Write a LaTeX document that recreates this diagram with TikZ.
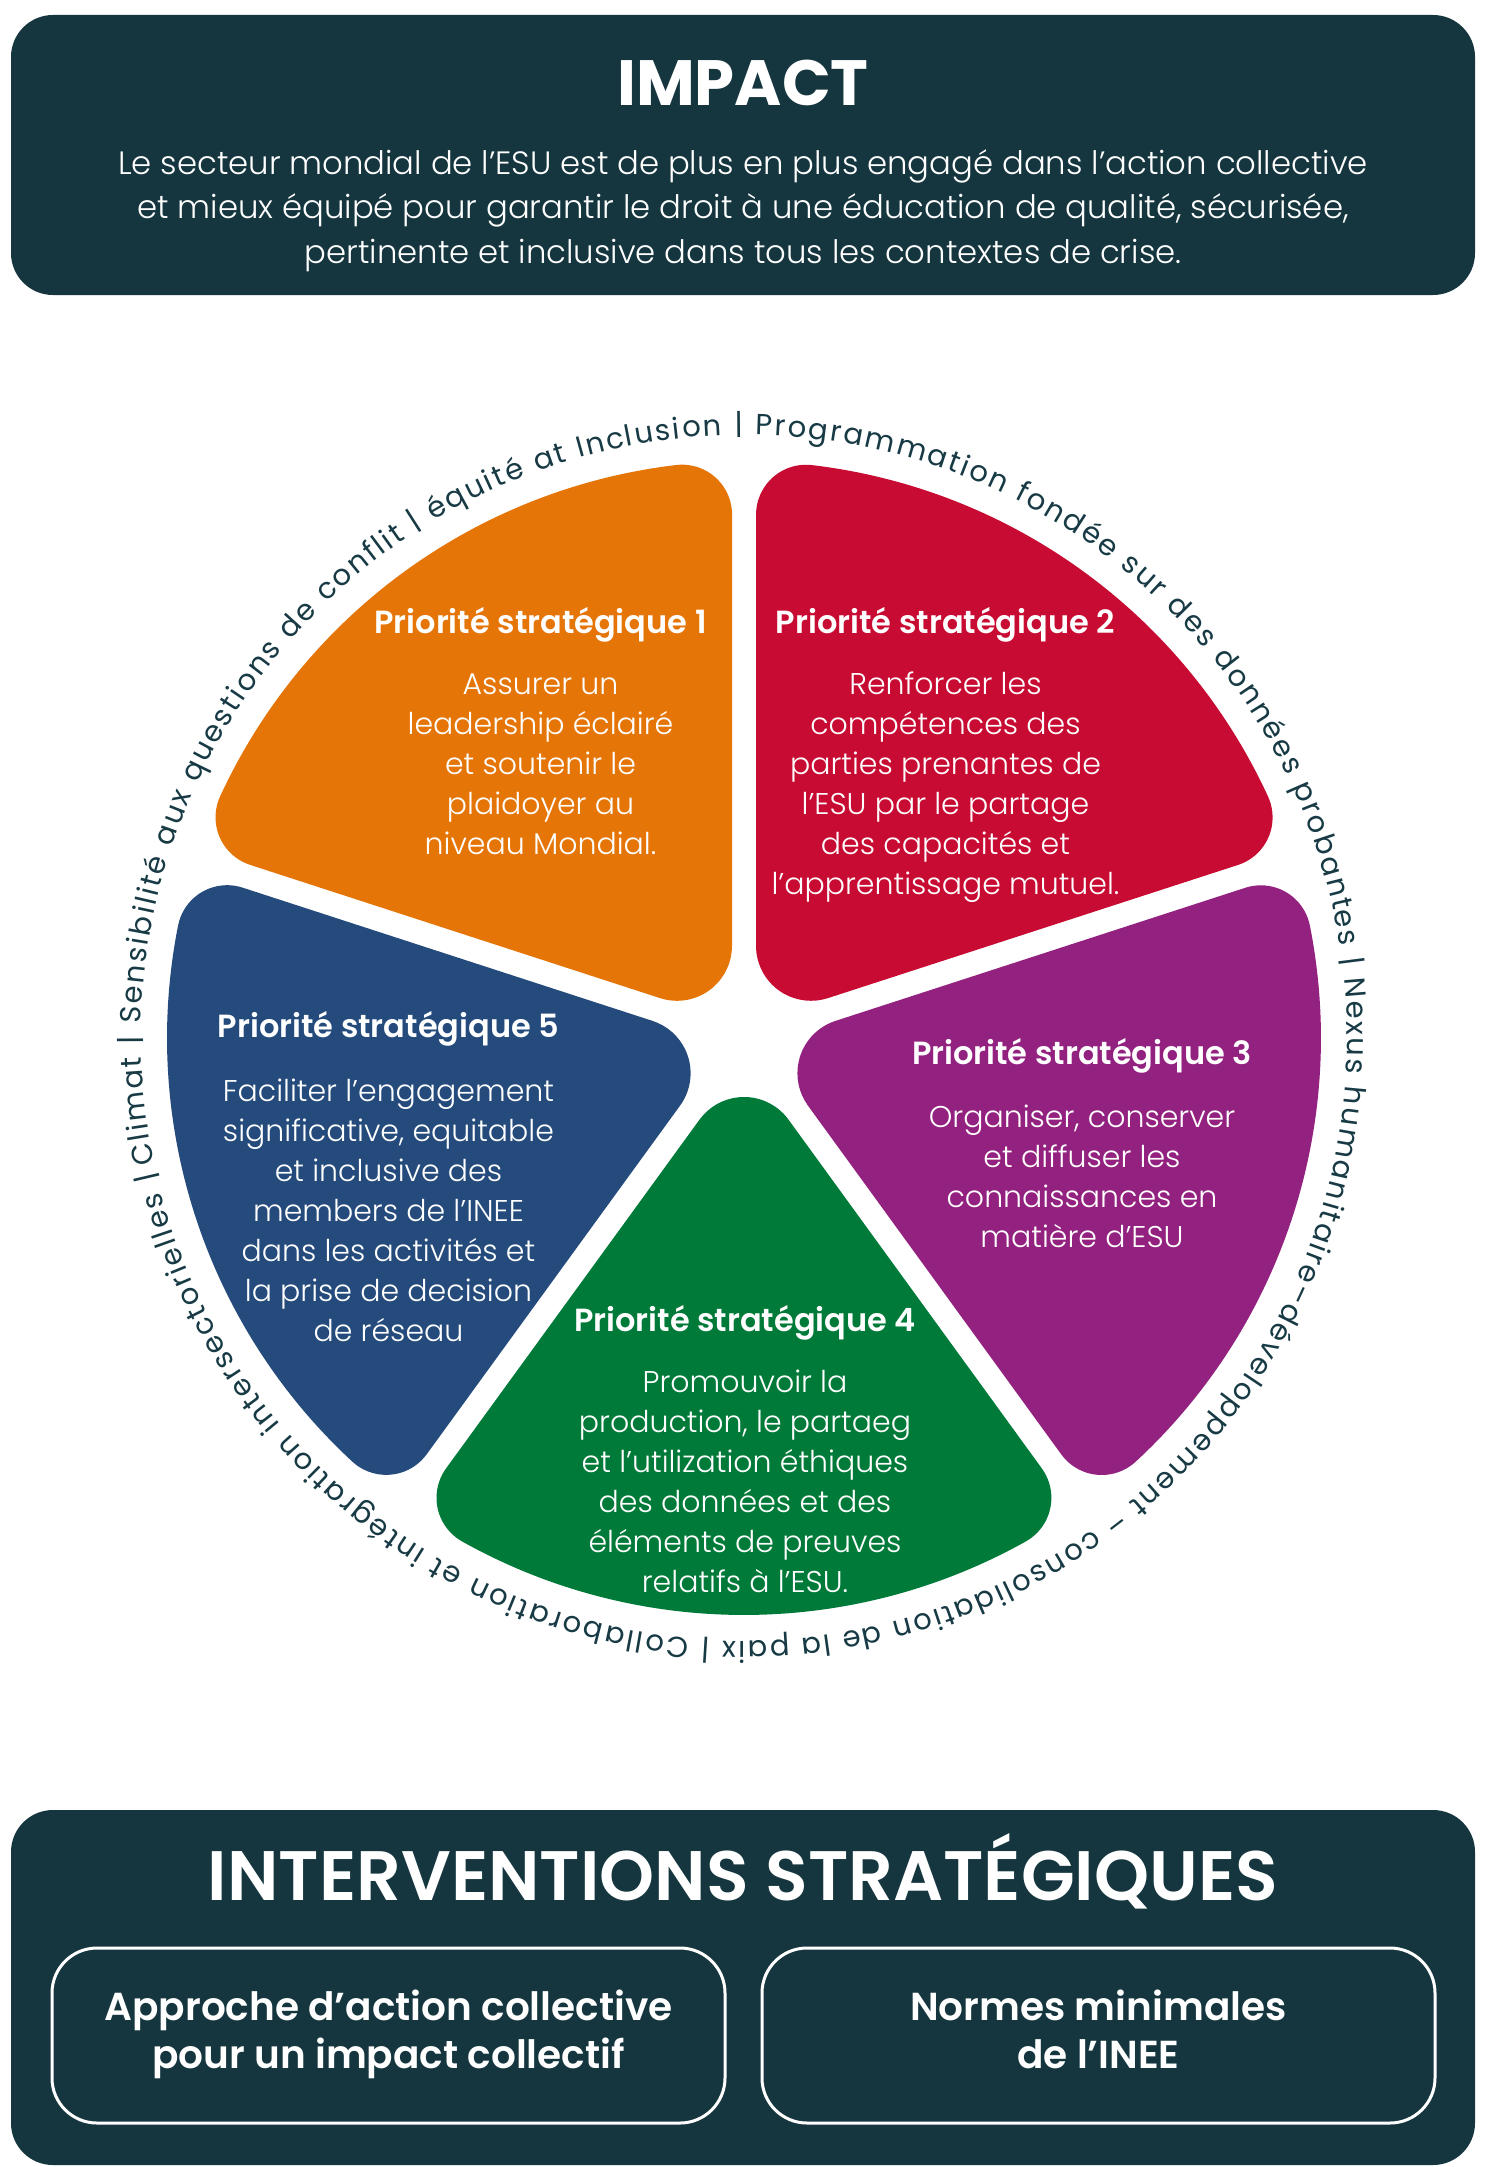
\documentclass[tikz,border=0pt]{standalone}
\usepackage{fontspec}
\setmainfont{Poppins}
\newfontfamily\plight{Poppins}[UprightFont={* Light}]
\newfontfamily\psemi{Poppins}[UprightFont={* SemiBold}]
\usetikzlibrary{decorations.text}
\definecolor{darkbg}{HTML}{15363F}
\definecolor{ringcol}{HTML}{173A45}
\definecolor{psone}{HTML}{E57507}
\definecolor{pstwo}{HTML}{C80B32}
\definecolor{psthree}{HTML}{932180}
\definecolor{psfour}{HTML}{007A38}
\definecolor{psfive}{HTML}{244B7C}
\newcommand\ringfont{\fontsize{29}{29}\selectfont}
\tikzset{
  boxbg/.style={fill=darkbg, rounded corners=42pt, inner sep=0pt},
  innerbox/.style={draw=white, line width=3pt, rounded corners=45pt, inner sep=0pt},
  bigtitle/.style={text=white, font=\fontsize{64}{64}\selectfont\bfseries, anchor=base, inner sep=0pt},
  toptext/.style={text=white, font=\fontsize{32.3}{44.7}\selectfont\plight, align=center, anchor=north, inner sep=0pt},
  pstitle/.style={text=white, font=\fontsize{32}{32}\selectfont\psemi, anchor=base, inner sep=0pt},
  psbody/.style={text=white, font=\fontsize{30}{40.1}\selectfont\plight, align=center, anchor=north, inner sep=0pt},
  intertitle/.style={text=white, font=\fontsize{70}{70}\selectfont\psemi, anchor=base, inner sep=0pt},
  intertext/.style={text=white, font=\fontsize{39}{48}\selectfont\psemi, align=center, anchor=north, inner sep=0pt}
}
\begin{document}
\begin{tikzpicture}[x=1pt,y=1pt]
\useasboundingbox (0,0) rectangle (1486,-2167);
\fill[white] (0,0) rectangle (1486,-2167);

% ---------- IMPACT box
\node[boxbg, minimum width=1464pt, minimum height=280pt] (impactbox) at (743,-155) {};
\node[bigtitle] (impacttitle) at (743,-106) {IMPACT};
\node[toptext] (impacttext) at (743,-142) {\rule{0pt}{32pt}Le secteur mondial de l’ESU est de plus en plus engagé dans l’action collective\\
et mieux équipé pour garantir le droit à une éducation de qualité, sécurisée,\\
pertinente et inclusive dans tous les contextes de crise.};

% ---------- wheel sectors
\coordinate (wc) at (744,-1038);
\foreach \a/\c in {126/psone, 54/pstwo, -18/psthree, -90/psfour, 198/psfive}{
  \fill[\c, shift={(wc)}, rotate=\a]
    (81.66,-44.50) -- (430.40,-297.95)
    arc[start angle=-126, end angle=-29.243, radius=50]
    arc[start angle=-29.243, end angle=29.243, radius=577]
    arc[start angle=29.243, end angle=126, radius=50]
    -- (81.66,44.50)
    arc[start angle=126, end angle=234, radius=55] -- cycle;
}

% ---------- ring text
\path[decorate, decoration={text along path, text format delimiters={[}{]},
  text color=ringcol, text align=fit to path,
  text={[\ringfont]Climat | Sensibilité aux questions de conflit | équité at Inclusion | Programmation fondée sur des données probantes | Nexus humanitaire–développement – consolidation de la paix | Collaboration et intégration intersectorielles |~}}]
  (wc) ++(192:603) arc[start angle=192, end angle=-168, radius=603];

% ---------- sector texts
\node[pstitle] (t1) at (540.5,-633) {Priorité stratégique 1};
\node[psbody] (b1) at (540.5,-666) {\rule{0pt}{28pt}Assurer un\\leadership éclairé\\et soutenir le\\plaidoyer au\\niveau Mondial.};

\node[pstitle] (t2) at (945.5,-633) {Priorité stratégique 2};
\node[psbody] (b2) at (945.5,-666) {\rule{0pt}{28pt}Renforcer les\\compétences des\\parties prenantes de\\l’ESU par le partage\\des capacités et\\l’apprentissage mutuel.};

\node[pstitle] (t3) at (1082,-1064) {Priorité stratégique 3};
\node[psbody] (b3) at (1082,-1099) {\rule{0pt}{28pt}Organiser, conserver\\et diffuser les\\connaissances en\\matière d’ESU};

\node[pstitle] (t4) at (745,-1331) {Priorité stratégique 4};
\node[psbody] (b4) at (745,-1364) {\rule{0pt}{28pt}Promouvoir la\\production, le partaeg\\et l’utilization éthiques\\des données et des\\éléments de preuves\\relatifs à l’ESU.};

\node[pstitle] (t5) at (388.5,-1037) {Priorité stratégique 5};
\node[psbody] (b5) at (388.5,-1073) {\rule{0pt}{28pt}Faciliter l’engagement\\significative, equitable\\et inclusive des\\members de l’INEE\\dans les activités et\\la prise de decision\\de réseau};

% ---------- INTERVENTIONS box
\node[boxbg, minimum width=1464pt, minimum height=355pt] (interbox) at (743,-1987.5) {};
\node[intertitle] (intertitle) at (743,-1900) {INTERVENTIONS STRATÉGIQUES};
\node[innerbox, minimum width=673pt, minimum height=175pt] (boxa) at (388.5,-2035.5) {};
\node[innerbox, minimum width=673pt, minimum height=175pt] (boxb) at (1098.5,-2035.5) {};
\node[intertext] (texta) at (boxa.center |- 0,-1982) {\rule{0pt}{38pt}Approche d’action collective\\pour un impact collectif};
\node[intertext] (textb) at (boxb.center |- 0,-1982) {\rule{0pt}{38pt}Normes minimales\\de l’INEE};
\end{tikzpicture}
\end{document}
